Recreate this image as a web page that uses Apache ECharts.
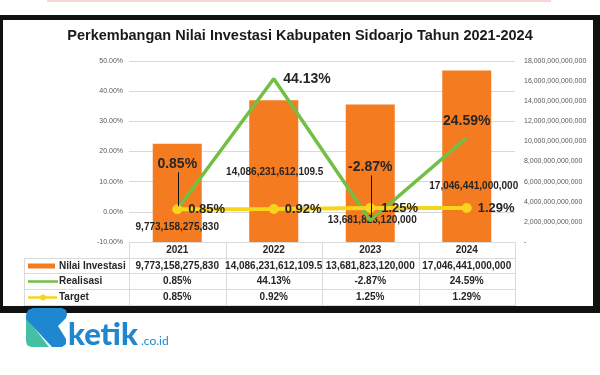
<!DOCTYPE html>
<html>
<head>
<meta charset="utf-8">
<script src="https://cdn.jsdelivr.net/npm/echarts@6/dist/echarts.min.js"></script>
<style>html,body{margin:0;padding:0;background:#fff}#c{width:600px;height:375px}</style>
</head>
<body>
<div id="c"></div>
<script>
// ---- data ----
const categories = ['2021', '2022', '2023', '2024'];
const nilaiInvestasi = [9773158275830, 14086231612109.5, 13681823120000, 17046441000000];
const realisasi = [0.85, 44.13, -2.87, 24.59];
const target = [0.85, 0.92, 1.25, 1.29];
const seriesNames = ['Nilai Investasi', 'Realisasi', 'Target'];
const leftAxis = { min: -10, max: 50, interval: 10 };
const rightAxis = { min: 0, max: 18000000000000, interval: 2000000000000 };
const titleText = 'Perkembangan Nilai Investasi Kabupaten Sidoarjo Tahun 2021-2024';

// ---- formatting helpers ----
const FONT = 'Liberation Sans';
const fmtNum = v => v.toLocaleString('en-US', { maximumFractionDigits: 1 });
const fmtPct = v => v.toFixed(2) + '%';

const ORANGE = '#F47B20', GREEN = '#72BF44', YELLOW = '#F8D51C', TXT = '#262626';

// label placement per point (style only)
const barLabelOffsets = [[0, -5], [1, -60], [2, -12], [7, -46]];
const greenLabelPos = [['top', 38], ['right', 9], ['top', 46], ['top', 9]];

const chart = echarts.init(document.getElementById('c'), null, { renderer: 'canvas' });

const option = {
  animation: false,
  backgroundColor: '#fff',
  title: {
    text: titleText, left: 'center', top: 23,
    textStyle: { fontFamily: FONT, fontSize: 14.5, fontWeight: 'bold', color: '#1a1a1a' }
  },
  grid: { left: 129, right: 85, top: 61, bottom: 133, outerBoundsMode: 'none', containLabel: false },
  xAxis: {
    type: 'category', data: categories,
    axisLine: { show: false }, axisTick: { show: false }, axisLabel: { show: false }
  },
  yAxis: [
    {
      type: 'value', min: leftAxis.min, max: leftAxis.max, interval: leftAxis.interval,
      axisLine: { show: false }, axisTick: { show: false },
      axisLabel: { formatter: v => fmtPct(v), fontFamily: FONT, fontSize: 7, color: '#595959', margin: 6 },
      splitLine: { lineStyle: { color: '#d9d9d9', width: 1 } }
    },
    {
      type: 'value', min: rightAxis.min, max: rightAxis.max, interval: rightAxis.interval,
      axisLine: { show: false }, axisTick: { show: false },
      axisLabel: { formatter: v => v === 0 ? '-' : fmtNum(v), fontFamily: FONT, fontSize: 7, color: '#595959', margin: 9 },
      splitLine: { show: false }
    }
  ],
  series: [
    {
      name: seriesNames[0], type: 'bar', yAxisIndex: 1, barWidth: 49, z: 1,
      itemStyle: { color: ORANGE },
      data: nilaiInvestasi.map((v, i) => ({
        value: v,
        label: {
          show: true, position: 'insideBottom', distance: 5, offset: barLabelOffsets[i],
          formatter: () => fmtNum(v), fontFamily: FONT, fontSize: 10, fontWeight: 'bold', color: TXT
        }
      }))
    },
    {
      name: seriesNames[1], type: 'line', yAxisIndex: 0, z: 3,
      symbol: 'circle', symbolSize: 1, showSymbol: true,
      lineStyle: { color: GREEN, width: 3.5 }, itemStyle: { color: GREEN },
      data: realisasi.map((v, i) => ({
        value: v,
        label: {
          show: true, position: greenLabelPos[i][0], distance: greenLabelPos[i][1],
          formatter: () => fmtPct(v), fontFamily: FONT, fontSize: 14, fontWeight: 'bold', color: TXT
        }
      }))
    },
    {
      name: seriesNames[2], type: 'line', yAxisIndex: 0, z: 4,
      symbol: 'circle', symbolSize: 10,
      lineStyle: { color: YELLOW, width: 4 }, itemStyle: { color: YELLOW },
      label: {
        show: true, position: 'right', distance: 6,
        formatter: p => fmtPct(p.value), fontFamily: FONT, fontSize: 13, fontWeight: 'bold', color: TXT
      },
      data: target
    }
  ]
};
chart.setOption(option);

// ---- overlay: frame, leader lines, data table, logo ----
const g = [];
// frame
g.push({ type: 'rect', z: -10, silent: true, shape: { x: 0, y: 15, width: 600, height: 298 }, style: { fill: '#111' } });
g.push({ type: 'rect', z: -9, silent: true, shape: { x: 3, y: 20, width: 590, height: 286 }, style: { fill: '#fff' } });
g.push({ type: 'rect', z: -9, silent: true, shape: { x: 47, y: 0, width: 504, height: 2 }, style: { fill: '#f7d6d6' } });

// leader lines for the two labels lifted above their points
[0, 2].forEach(i => {
  const p = chart.convertToPixel({ seriesIndex: 1 }, [i, realisasi[i]]);
  const d = greenLabelPos[i][1];
  g.push({ type: 'line', z: 50, shape: { x1: Math.round(p[0]) + 1.5, y1: p[1] - d + 1, x2: Math.round(p[0]) + 1.5, y2: p[1] - 3 },
           style: { stroke: '#111', lineWidth: 1 } });
});

// table
const centers = categories.map((c, i) => chart.convertToPixel({ xAxisIndex: 0 }, i));
const band = centers.length > 1 ? centers[1] - centers[0] : 96;
const colL = centers.map(c => c - band / 2);
const tableRight = centers[centers.length - 1] + band / 2;
const tableLeft = 24;
const rowsY = [242, 258, 273, 289, 305];
const BORDER = '#dadada';
const hl = (x1, x2, y) => g.push({ type: 'line', z: 20, shape: { x1, y1: y + 0.5, x2, y2: y + 0.5 }, style: { stroke: BORDER, lineWidth: 1 } });
const vl = (x, y1, y2) => g.push({ type: 'line', z: 20, shape: { x1: Math.round(x) + 0.5, y1, x2: Math.round(x) + 0.5, y2 }, style: { stroke: BORDER, lineWidth: 1 } });
hl(colL[0], tableRight, rowsY[0]);
for (let r = 1; r < rowsY.length; r++) hl(tableLeft, tableRight, rowsY[r]);
vl(tableLeft, rowsY[1], rowsY[4] + 1);
colL.forEach(x => vl(x, rowsY[0], rowsY[4] + 1));
vl(tableRight, rowsY[0], rowsY[4] + 1);

const cellText = (txt, x, y, align) => g.push({
  type: 'text', z: 30, x, y,
  style: { text: txt, fontFamily: FONT, fontSize: 10, fontWeight: 'bold', fill: TXT, align: align || 'center', verticalAlign: 'middle' }
});
const rowMid = r => (rowsY[r] + rowsY[r + 1]) / 2 + 0.5;
categories.forEach((c, i) => cellText(c, centers[i], rowMid(0)));
const tableRows = [nilaiInvestasi.map(fmtNum), realisasi.map(fmtPct), target.map(fmtPct)];
tableRows.forEach((row, r) => row.forEach((t, i) => cellText(t, centers[i], rowMid(r + 1))));
seriesNames.forEach((n, r) => cellText(n, 59, rowMid(r + 1), 'left'));
// legend keys
g.push({ type: 'rect', z: 30, shape: { x: 28, y: rowMid(1) - 2.5, width: 27, height: 5 }, style: { fill: ORANGE } });
g.push({ type: 'line', z: 30, shape: { x1: 28, y1: rowMid(2), x2: 58, y2: rowMid(2) }, style: { stroke: GREEN, lineWidth: 2.5 } });
g.push({ type: 'line', z: 30, shape: { x1: 28, y1: rowMid(3), x2: 57, y2: rowMid(3) }, style: { stroke: YELLOW, lineWidth: 2.5 } });
g.push({ type: 'circle', z: 31, shape: { cx: 43, cy: rowMid(3), r: 3 }, style: { fill: YELLOW } });

// logo
const BLUE = '#1E87CF', TEAL = '#45BFA6';
g.push({ type: 'polygon', z: 40, shape: { points: [[26, 317], [49, 347], [31, 347], [27, 345], [26, 341]] }, style: { fill: TEAL } });
g.push({ type: 'polygon', z: 41, shape: { points: [[26, 315], [28, 310], [33, 308], [62, 308], [66, 310], [67, 314], [66, 318], [58, 326], [66, 339], [66, 344], [62, 347], [52, 347], [26, 319]] }, style: { fill: BLUE } });
g.push({ type: 'text', z: 41, x: 68, y: 334.5, style: { text: 'ketik', fontFamily: 'Lato', fontWeight: 900, fontSize: 31, fill: BLUE, verticalAlign: 'middle' } });
g.push({ type: 'text', z: 41, x: 141, y: 341.5, style: { text: '.co.id', fontFamily: 'Lato', fontSize: 12, fill: BLUE, verticalAlign: 'middle' } });

chart.setOption({ graphic: { elements: g } });
</script>
</body>
</html>
